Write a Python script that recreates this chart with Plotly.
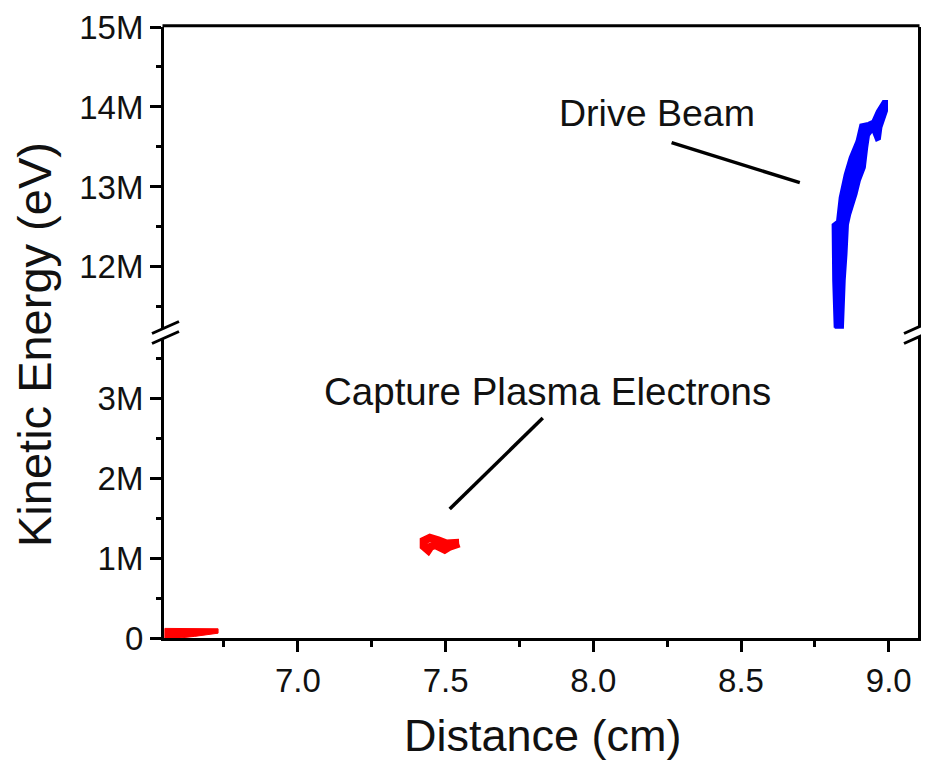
import plotly.graph_objects as go

# ---- data (energies in MeV, distance in cm) ----
beam_x = [8.817, 8.812, 8.810, 8.825, 8.834, 8.851, 8.868, 8.891, 8.904, 8.930, 8.945, 8.960, 8.981, 8.994,
          8.994, 8.975, 8.970, 8.958, 8.945, 8.933, 8.927, 8.919, 8.902, 8.891, 8.870, 8.862, 8.857, 8.851, 8.845, 8.817]
beam_e = [11.24, 11.83, 12.53, 12.575, 12.87, 13.16, 13.37, 13.575, 13.78, 13.80, 13.825, 13.95, 14.075, 14.075,
          13.95, 13.74, 13.60, 13.58, 13.70, 13.64, 13.49, 13.24, 13.075, 12.91, 12.66, 12.53, 12.16, 11.83, 11.24, 11.24]

capt_x = [7.546, 7.503, 7.475, 7.447, 7.426, 7.426, 7.441, 7.449, 7.464, 7.481, 7.497, 7.514, 7.546]
capt_e = [1.192, 1.183, 1.222, 1.252, 1.215, 1.145, 1.098, 1.142, 1.163, 1.125, 1.105, 1.142, 1.183]

bg_x = [6.55, 6.55, 6.73, 6.73, 6.65, 6.60, 6.55]
bg_e = [0.0, 0.12, 0.115, 0.06, 0.02, 0.0, 0.0]

low_ticks = [0, 1, 2, 3]
low_labels = ["0", "1M", "2M", "3M"]
up_ticks = [12, 13, 14, 15]
up_labels = ["12M", "13M", "14M", "15M"]

M = 1e6
BLUE = "#0000FF"
RED = "#FF0000"
FONT = "Liberation Sans, Arial, sans-serif"

fig = go.Figure()
fig.add_trace(go.Scatter(x=bg_x, y=[v * M for v in bg_e], mode="lines", fill="toself",
                         fillcolor=RED, line=dict(color=RED, width=1), yaxis="y", showlegend=False))
fig.add_trace(go.Scatter(x=capt_x, y=[v * M for v in capt_e], mode="lines",
                         line=dict(color=RED, width=8), yaxis="y", showlegend=False))
fig.add_trace(go.Scatter(x=beam_x, y=[v * M for v in beam_e], mode="lines", fill="toself",
                         fillcolor=BLUE, line=dict(color=BLUE, width=2), yaxis="y2", showlegend=False))

# page has an 8px body margin; figure sized so plot area lands at page x 164..918, y 27..638
L, R, T, B = 156, 11, 19, 127
W, H = 921, 757
pw, ph = W - L - R, H - T - B
PX0, PY1 = 164, 638  # page coords of plot-area left and bottom
def px(xp):
    return (xp - PX0) / pw
def py(yp):
    return (PY1 - yp) / ph

axis_common = dict(showline=True, linecolor="black", linewidth=3, ticks="outside",
                   tickcolor="black", tickwidth=3, ticklen=11, showgrid=False, zeroline=False,
                   automargin=False,
                   tickfont=dict(family=FONT, size=33, color="#111"))

fig.update_layout(
    width=W, height=H, margin=dict(l=L, r=R, t=T, b=B, autoexpand=False),
    paper_bgcolor="white", plot_bgcolor="white",
    xaxis=dict(range=[6.547, 9.099], tick0=7.0, dtick=0.5, tickformat=".1f",
               minor=dict(tick0=7.0, dtick=0.25, ticks="outside", ticklen=6, tickwidth=3, tickcolor="black"),
               anchor="y", **axis_common),
    yaxis=dict(domain=[0, 0.5], range=[0, 3.82 * M], tickmode="array",
               tickvals=[v * M for v in low_ticks], ticktext=low_labels, mirror=True,
               minor=dict(tickmode="linear", tick0=0.5 * M, dtick=M, ticks="outside", ticklen=5,
                          tickwidth=3, tickcolor="black"),
               **axis_common),
    yaxis2=dict(domain=[0.5, 1], range=[11.18 * M, 15 * M], tickmode="array",
                tickvals=[v * M for v in up_ticks], ticktext=up_labels, mirror=True, anchor="x",
                minor=dict(tickmode="linear", tick0=11.5 * M, dtick=M, ticks="outside", ticklen=5,
                           tickwidth=3, tickcolor="black"),
                **axis_common),
)

shapes = []
# top frame line
shapes.append(dict(type="line", xref="paper", yref="paper", x0=-0.002, x1=1.002, y0=1.002, y1=1.002,
                   line=dict(color="black", width=3)))
# axis break marks
for cx in [165, 917]:
    cy = 332.5
    x0, x1 = cx - 13, cx + 14
    shapes.append(dict(type="path", xref="paper", yref="paper",
                       path=f"M {px(x0)} {py(cy+1)} L {px(x1)} {py(cy-11)} L {px(x1)} {py(cy-1)} L {px(x0)} {py(cy+10)} Z",
                       fillcolor="white", line=dict(width=0)))
    shapes.append(dict(type="line", xref="paper", yref="paper", x0=px(x0), y0=py(cy + 1), x1=px(x1), y1=py(cy - 11),
                       line=dict(color="black", width=3)))
    shapes.append(dict(type="line", xref="paper", yref="paper", x0=px(x0), y0=py(cy + 11), x1=px(x1), y1=py(cy - 1),
                       line=dict(color="black", width=3)))
# annotation pointer lines
shapes.append(dict(type="line", xref="x", yref="y2", x0=8.265, y0=13.554 * M, x1=8.699, y1=13.054 * M,
                   line=dict(color="black", width=3.5)))
shapes.append(dict(type="line", xref="x", yref="y", x0=7.829, y0=2.75 * M, x1=7.514, y1=1.6125 * M,
                   line=dict(color="black", width=3.5)))
fig.update_layout(shapes=shapes)

annots = [
    dict(text="Drive Beam", xref="x", yref="y2", x=8.215, y=13.93 * M, showarrow=False,
         font=dict(family=FONT, size=37.5, color="#111")),
    dict(text="Capture Plasma Electrons", xref="x", yref="y", x=7.846, y=3.08 * M, showarrow=False,
         font=dict(family=FONT, size=38.5, color="#111")),
    dict(text="Distance (cm)", xref="paper", yref="paper", x=px(543), y=py(735), showarrow=False,
         xanchor="center", yanchor="middle", font=dict(family=FONT, size=45, color="#111")),
    dict(text="Kinetic Energy (eV)", xref="paper", yref="paper", x=px(34), y=py(345), showarrow=False,
         textangle=-90, xanchor="center", yanchor="middle", font=dict(family=FONT, size=47, color="#111")),
]
fig.update_layout(annotations=annots)

fig.write_html("out.html")
